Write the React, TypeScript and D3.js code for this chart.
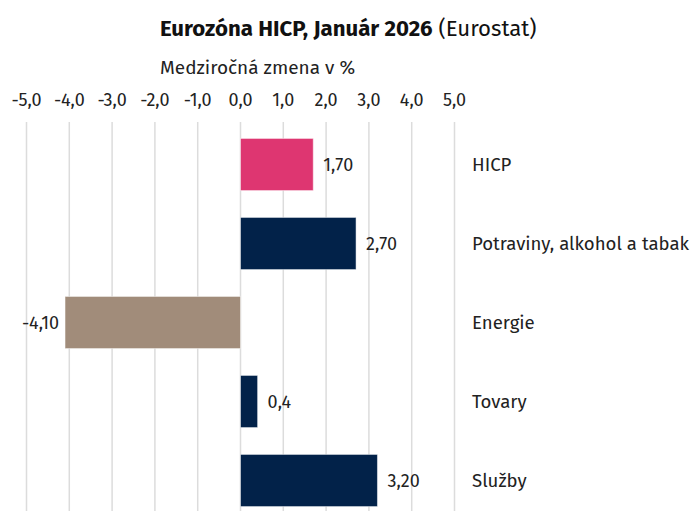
import React from "react";
import * as d3 from "d3";

const categories = ["HICP", "Potraviny, alkohol a tabak", "Energie", "Tovary", "Služby"];
const values = [1.7, 2.7, -4.1, 0.4, 3.2];
const valueLabels = ["1,70", "2,70", "-4,10", "0,4", "3,20"];
const barColors = ["#DE3671", "#022249", "#A18C7A", "#022249", "#022249"];
const tickValues = [-5, -4, -3, -2, -1, 0, 1, 2, 3, 4, 5];

const W = 697;
const H = 511;
const FONT = "'Fira Sans', Roboto, 'Open Sans', sans-serif";

export default function App() {
  const x = d3.scaleLinear().domain([-5, 5]).range([26.5, 454.5]);
  const y = d3.scaleBand<string>().domain(categories).range([125, 520]).paddingInner(0.34).paddingOuter(0.17);
  const fmt = (v: number) => d3.format(".1f")(v).replace(".", ",").replace("−", "-");

  return (
    <svg width={W} height={H} style={{ position: "absolute", left: 0, top: 0, fontFamily: FONT }}>
      <rect width={W} height={H} fill="#fff" />
      <text x={160} y={36} fontSize={22.2} fill="#111">
        <tspan fontWeight="bold">Eurozóna HICP, Január 2026</tspan>
        <tspan> (Eurostat)</tspan>
      </text>
      <text x={160} y={74} fontSize={19} fill="#222">Medziročná zmena v %</text>
      {tickValues.map((t) => (
        <g key={t}>
          <text x={x(t)} y={106} fontSize={18} textAnchor="middle" fill="#222">{fmt(t)}</text>
          <line x1={x(t)} x2={x(t)} y1={122} y2={511} stroke="#dcdcdc" strokeWidth={1.5} />
        </g>
      ))}
      {categories.map((c, i) => {
        const v = values[i];
        const y0 = y(c)!;
        const bw = y.bandwidth();
        const x0 = Math.min(x(0), x(v));
        const x1 = Math.max(x(0), x(v));
        const cy = y0 + bw / 2;
        return (
          <g key={c}>
            <rect x={x0} y={y0} width={x1 - x0} height={bw} fill={barColors[i]} stroke="#ffffff" strokeOpacity={0.5} strokeWidth={1} />
            <text
              x={v >= 0 ? x1 + 10 : x0 - 6}
              y={cy}
              dy="0.35em"
              fontSize={18}
              textAnchor={v >= 0 ? "start" : "end"}
              fill="#222"
            >
              {valueLabels[i]}
            </text>
            <text x={472} y={cy} dy="0.35em" fontSize={18.6} fill="#222">{c}</text>
          </g>
        );
      })}
    </svg>
  );
}
